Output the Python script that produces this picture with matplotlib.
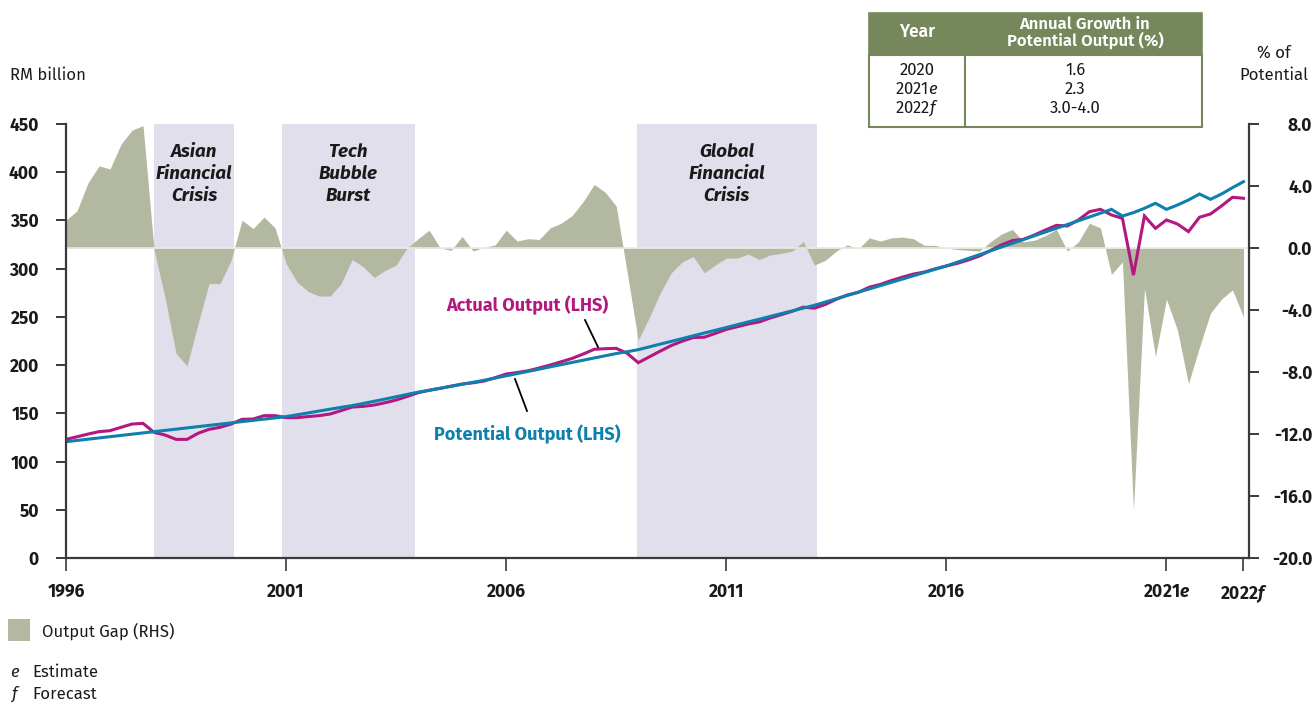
import numpy as np
import matplotlib
matplotlib.use("Agg")
import matplotlib.pyplot as plt
from matplotlib.patches import Rectangle
from matplotlib.lines import Line2D

plt.rcParams["font.family"] = ["Fira Sans", "DejaVu Sans"]
plt.rcParams["mathtext.fontset"] = "custom"
plt.rcParams["mathtext.rm"] = "Fira Sans"
plt.rcParams["mathtext.it"] = "Fira Sans:italic"
plt.rcParams["mathtext.bf"] = "Fira Sans:italic:bold"

# quarterly series, 1996Q1 .. 2022Q4
potential = [
    120.6, 121.9, 123.2, 124.5, 125.8, 127.1, 128.4, 129.7, 131.0, 132.3,
    133.6, 134.9, 136.2, 137.5, 138.8, 140.1, 141.4, 142.7, 144.0, 145.3,
    146.6, 148.5, 150.4, 152.4, 154.3, 156.2, 158.0,
    160.2, 162.5, 164.8, 167.2, 169.6, 172.0, 174.0, 176.0, 178.0, 180.1,
    182.2, 184.3, 186.6, 188.9, 191.2, 193.5, 195.8, 198.2, 200.5, 202.8,
    205.1, 207.4, 209.7, 212.0, 213.9,
    216.0, 218.9, 221.8, 224.6, 227.5, 230.4, 233.3, 236.1, 239.0, 241.9,
    244.8, 247.6, 250.5, 253.4, 256.3, 259.1, 262.0,
    265.4, 268.8, 272.2, 275.6, 279.0, 282.4, 285.8, 289.2, 292.6, 296.0,
    299.4, 302.8,
    306.7, 310.6, 314.5, 318.4, 322.4, 326.3, 330.2, 334.1, 338.0, 341.9,
    345.8, 349.7, 353.6, 357.5, 361.5,
    354.6, 358.1, 362.6, 367.8, 361.5, 366.0, 371.2, 377.4, 371.9, 377.4,
    384.0, 390.2,
]
actual = [
    123.0, 125.7, 128.5, 131.0, 132.0, 135.5, 138.9, 139.6, 130.3, 127.5,
    123.0, 123.0, 129.3, 133.4, 135.5, 138.9, 143.8, 144.1, 147.6, 147.6,
    145.5, 145.5, 146.6, 147.6, 149.3, 152.8, 156.5,
    157.2, 158.6, 161.0, 163.8, 167.5, 171.4, 173.8, 175.9, 178.2, 180.4,
    181.7, 183.5, 187.0, 190.8, 192.3, 194.2, 197.0, 200.1, 203.5, 207.0,
    211.5, 216.4, 217.0, 217.4, 212.2, 202.5,
    208.5, 214.5, 220.3, 224.8, 228.6, 228.9, 232.9, 237.0, 239.8, 242.6,
    244.8, 248.9, 252.3, 255.8, 260.1, 259.0,
    262.9, 268.3, 272.7, 275.5, 280.8, 283.7, 287.7, 291.2, 294.4, 296.5,
    299.9, 302.8,
    305.5, 309.0, 313.1, 318.7, 324.6, 329.1, 330.4, 334.9, 340.1, 344.9,
    344.3, 350.5, 359.1, 361.5, 355.7, 352.2,
    293.4, 354.6, 341.8, 350.5, 346.3, 338.4, 353.3, 356.7, 365.0, 374.0,
    373.0,
]
gap = [
    1.8, 2.4, 4.2, 5.3, 5.1, 6.7, 7.6, 7.9, -0.1, -3.2,
    -6.8, -7.6, -4.9, -2.3, -2.3, -0.8, 1.8, 1.25, 2.0, 1.3,
    -1.0, -2.2, -2.8, -3.1, -3.1, -2.3, -0.75, -1.2, -1.9, -1.45,
    -1.1, 0.0, 0.6, 1.15, 0.0, -0.15, 0.75, -0.2, 0.05, 0.2,
    1.15, 0.45, 0.6, 0.55, 1.3, 1.6, 2.1, 3.0, 4.1, 3.6,
    2.7, -1.6, -5.95, -4.5, -2.9, -1.6, -0.9, -0.55, -1.6, -1.1,
    -0.65, -0.65, -0.4, -0.75, -0.45, -0.35, -0.2, 0.43, -1.1, -0.8,
    -0.2, 0.2, -0.05, 0.65, 0.45, 0.65, 0.7, 0.6, 0.17, 0.17,
    0.0, -0.1, -0.15, -0.2, 0.4, 0.9, 1.2, 0.4, 0.5, 0.8,
    1.2, -0.2, 0.4, 1.6, 1.3, -1.7, -0.9, -16.9, -2.6, -7.0,
    -3.3, -5.3, -8.75, -6.4, -4.2, -3.3, -2.7, -4.45,
]
quarters = np.arange(len(potential))

tick_quarters = [0, 20, 40, 60, 80, 100, 107]
tick_labels = ["1996", "2001", "2006", "2011", "2016",
               r"2021$\mathbf{e}$", r"2022$\mathbf{f}$"]

# crisis periods in quarter index (start, end)
crisis_names = ["Asian\nFinancial\nCrisis", "Tech\nBubble\nBurst",
                "Global\nFinancial\nCrisis"]
crisis_spans = [(8.0, 15.3), (19.6, 31.7), (51.9, 68.2)]

table_years = ["2020", r"2021$e$", r"2022$f$"]
table_growth = ["1.6", "2.3", "3.0-4.0"]

C_GAP = "#b2b9a0"
C_BAND = "#e2dfec"
C_ACT = "#b2187f"
C_POT = "#0f7fad"
C_GREEN = "#76885b"
C_TXT = "#1a1a1a"
C_AX = "#3a3a3a"

W, H = 1316, 705
fig = plt.figure(figsize=(W / 100, H / 100), dpi=100)


def fx(x):
    return x / W


def fy(y):
    return 1 - y / H


ax = fig.add_axes([fx(66), fy(558), fx(1249) - fx(66), fy(124) - fy(558)])
ax2 = ax.twinx()
ax.set_zorder(ax2.get_zorder() + 1)
ax.patch.set_visible(False)

# right axis: crisis bands and output gap
for (s, e), name in zip(crisis_spans, crisis_names):
    ax2.axvspan(s, e, color=C_BAND, lw=0, zorder=0)
    ax2.text((s + e) / 2, 0.956, name, transform=ax2.get_xaxis_transform(),
             ha="center", va="top", fontsize=13.5, fontweight="bold",
             fontstyle="italic", color=C_TXT, linespacing=1.3, zorder=3)
ax2.fill_between(quarters, 0, gap, color=C_GAP, lw=0, zorder=1)
ax2.axhline(0, color="#e8eae2", lw=1.2, zorder=2)

# left axis: output lines
ax.plot(quarters, actual, color=C_ACT, lw=2.2, solid_joinstyle="miter")
ax.plot(quarters, potential, color=C_POT, lw=2.2, solid_joinstyle="miter")

ax.set_xlim(0, 107.5)
ax.set_ylim(0, 450)
ax2.set_ylim(-20, 8)

ax.set_yticks(range(0, 451, 50))
ax.set_yticklabels([str(v) for v in range(0, 451, 50)], fontweight="bold")
rticks = list(range(-20, 9, 4))
ax2.set_yticks(rticks)
ax2.set_yticklabels([f"{v:.1f}" for v in rticks], fontweight="bold")
ax.set_xticks(tick_quarters)
ax.set_xticklabels(tick_labels, fontweight="bold")

ax.tick_params(axis="y", length=7.5, width=1.4, pad=12, labelsize=12.5,
               color=C_AX, labelcolor=C_TXT)
ax.tick_params(axis="x", length=9, width=1.2, pad=9, labelsize=12.5,
               color=C_AX, labelcolor=C_TXT)
ax2.tick_params(axis="y", length=7.5, width=1.4, pad=38, labelsize=12.5,
                color=C_AX, labelcolor=C_TXT)
for t in ax2.get_yticklabels():
    t.set_horizontalalignment("right")

for sp in ["top", "right"]:
    ax.spines[sp].set_visible(False)
for sp in ["left", "bottom"]:
    ax.spines[sp].set_color(C_AX)
    ax.spines[sp].set_linewidth(1.6)
for sp in ["top", "left", "bottom"]:
    ax2.spines[sp].set_visible(False)
ax2.spines["right"].set_color(C_AX)
ax2.spines["right"].set_linewidth(1.6)

# series labels with leader lines
fig.text(fx(527), fy(305), "Actual Output (LHS)", ha="center", va="center",
         fontsize=13, fontweight="bold", color=C_ACT)
fig.text(fx(527), fy(434), "Potential Output (LHS)", ha="center", va="center",
         fontsize=13, fontweight="bold", color=C_POT)
fig.add_artist(Line2D([fx(585), fx(598)], [fy(320), fy(347)], color="black", lw=1.3))
fig.add_artist(Line2D([fx(515), fx(527)], [fy(379), fy(411)], color="black", lw=1.3))

# axis titles
fig.text(fx(10), fy(75), "RM billion", ha="left", va="center", fontsize=12,
         color=C_TXT)
fig.text(fx(1274), fy(64), "% of\nPotential", ha="center", va="center",
         fontsize=12, color=C_TXT, linespacing=1.45)

# growth table
fig.add_artist(Rectangle((fx(869), fy(55)), fx(1202) - fx(869), fy(13) - fy(55),
                         facecolor=C_GREEN, edgecolor=C_GREEN, lw=1.2))
fig.add_artist(Rectangle((fx(869), fy(127)), fx(1202) - fx(869), fy(55) - fy(127),
                         facecolor="white", edgecolor=C_GREEN, lw=1.5))
fig.add_artist(Line2D([fx(965), fx(965)], [fy(55), fy(127)], color=C_GREEN, lw=1.5))
fig.text(fx(917), fy(32), "Year", ha="center", va="center", fontsize=12.5,
         fontweight="semibold", color="white")
fig.text(fx(1085), fy(33), "Annual Growth in\nPotential Output (%)", ha="center",
         va="center", fontsize=12, fontweight="semibold", color="white",
         linespacing=0.95)
for k, (yr, g) in enumerate(zip(table_years, table_growth)):
    yy = 70 + 19 * k
    fig.text(fx(917), fy(yy), yr, ha="center", va="center", fontsize=12,
             color=C_TXT)
    fig.text(fx(1075), fy(yy), g, ha="center", va="center", fontsize=12,
             color=C_TXT)

# legend and notes
fig.add_artist(Rectangle((fx(8), fy(641)), fx(30) - fx(8), fy(619) - fy(641),
                         facecolor=C_GAP, edgecolor="none"))
fig.text(fx(42), fy(631), "Output Gap (RHS)", ha="left", va="center",
         fontsize=12, color=C_TXT)
fig.text(fx(10), fy(672), r"$e$", ha="left", va="center", fontsize=12, color=C_TXT)
fig.text(fx(32), fy(672), "Estimate", ha="left", va="center", fontsize=12,
         color=C_TXT)
fig.text(fx(10), fy(694), r"$f$", ha="left", va="center", fontsize=12, color=C_TXT)
fig.text(fx(32), fy(694), "Forecast", ha="left", va="center", fontsize=12,
         color=C_TXT)

fig.savefig("out.png", dpi=100)
